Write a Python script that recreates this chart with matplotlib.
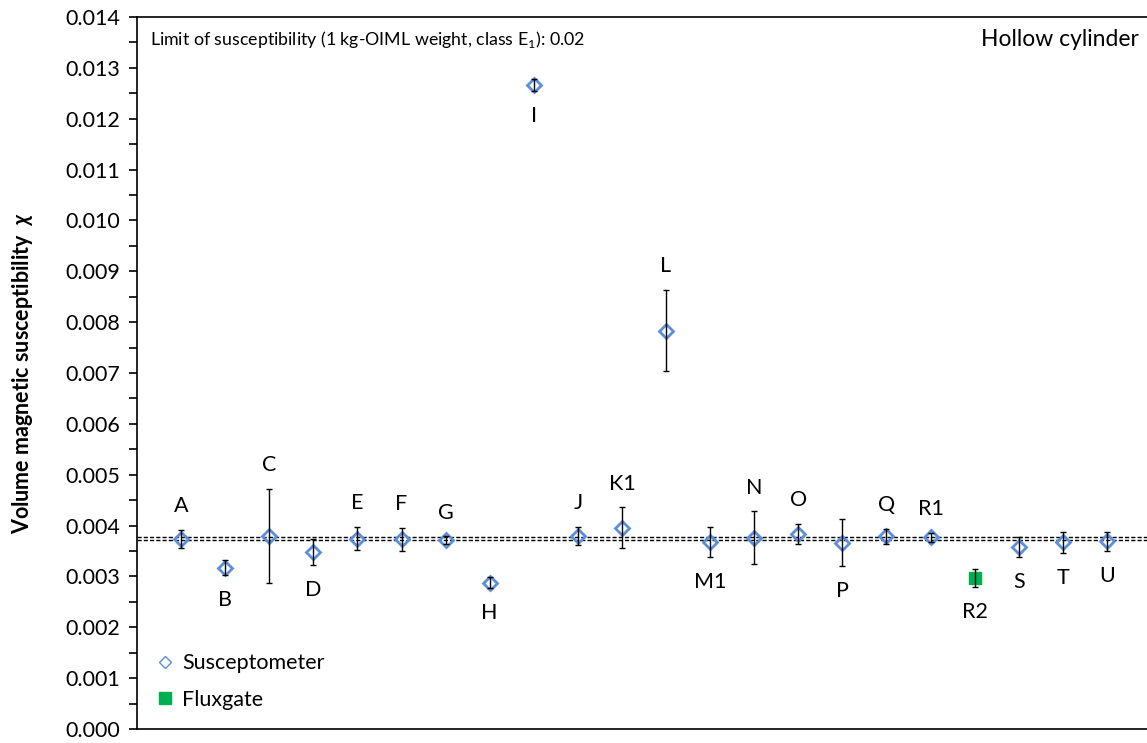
import matplotlib
matplotlib.use("Agg")
import matplotlib.pyplot as plt
from matplotlib.lines import Line2D
from matplotlib.ticker import MultipleLocator, FormatStrFormatter

plt.rcParams['font.family'] = ['Lato', 'DejaVu Sans']
plt.rcParams['mathtext.fontset'] = 'custom'
plt.rcParams['mathtext.rm'] = 'Lato'
plt.rcParams['mathtext.it'] = 'Lato:italic:bold'
plt.rcParams['mathtext.bf'] = 'Lato:bold'

# ---------- Dados ----------
labs = ["A", "B", "C", "D", "E", "F", "G", "H", "I", "J", "K1", "L",
        "M1", "N", "O", "P", "Q", "R1", "R2", "S", "T", "U"]
chi = [0.00374, 0.00317, 0.00380, 0.00348, 0.00374, 0.00373, 0.00371, 0.00288,
       0.01266, 0.00379, 0.00396, 0.00783, 0.00368, 0.00376, 0.00384, 0.00366,
       0.00379, 0.00377, 0.00297, 0.00358, 0.00367, 0.00369]
unc = [0.00018, 0.00015, 0.00092, 0.00025, 0.00023, 0.00023, 0.00008, 0.00010,
       0.00012, 0.00018, 0.00040, 0.00080, 0.00029, 0.00052, 0.00020, 0.00046,
       0.00015, 0.00009, 0.00017, 0.00019, 0.00021, 0.00019]
metodo = ["S"] * 18 + ["F"] + ["S"] * 3  # S = susceptometer, F = fluxgate
acima = ["A", "C", "E", "F", "G", "J", "K1", "L", "N", "O", "Q", "R1"]
ref_linhas = [0.00377, 0.00372]

azul = '#5B8FD8'
verde = '#00B050'

fig = plt.figure(figsize=(11.47, 7.43), dpi=100)
ax = fig.add_axes([137 / 1147, 14 / 743, 1014 / 1147, 712 / 743])

x = list(range(1, len(labs) + 1))

for y in ref_linhas:
    ax.axhline(y, color='black', lw=1.0, ls=(0, (3, 1.5)), zorder=1)

for xi, v, u, m in zip(x, chi, unc, metodo):
    ax.errorbar(xi, v, yerr=u, fmt='none', ecolor='black', elinewidth=1.0,
                capsize=2.5, capthick=1.0, zorder=3)
    if m == "S":
        ax.plot(xi, v, marker='D', ms=7, mfc='none', mec=azul, mew=2.0,
                ls='none', zorder=2)
    else:
        ax.plot(xi, v, marker='s', ms=9, mfc=verde, mec=verde, ls='none',
                zorder=2)

for xi, v, u, l in zip(x, chi, unc, labs):
    if l in acima:
        ax.annotate(l, (xi, v + u), xytext=(0, 17), textcoords='offset points',
                    ha='center', va='center', fontsize=15.5)
    else:
        ax.annotate(l, (xi, v - u), xytext=(0, -18), textcoords='offset points',
                    ha='center', va='center', fontsize=15.5)

ax.set_xlim(0, 23)
ax.set_ylim(0, 0.014)
ax.set_xticks([])
ax.yaxis.set_major_locator(MultipleLocator(0.001))
ax.yaxis.set_minor_locator(MultipleLocator(0.0005))
ax.yaxis.set_major_formatter(FormatStrFormatter('%.3f'))
ax.tick_params(axis='y', which='both', direction='out', length=6, width=1.2,
               labelsize=15.5, pad=6)
for s in ax.spines.values():
    s.set_linewidth(1.2)

ax.set_ylabel(r"Volume magnetic susceptibility  $\chi$", fontsize=15.5,
              fontweight='bold', labelpad=22)

ax.text(0.3, 0.01355, r"Limit of susceptibility (1 kg-OIML weight, class E$_1$): 0.02",
        fontsize=12.8, va='center', ha='left')
ax.text(22.72, 0.01355, "Hollow cylinder", fontsize=16.5, va='center', ha='right')

handles = [
    Line2D([], [], marker='D', ms=6, mfc='none', mec=azul, mew=1.0, ls='none'),
    Line2D([], [], marker='s', ms=8, mfc=verde, mec=verde, ls='none'),
]
ax.legend(handles, ["Susceptometer", "Fluxgate"], loc='lower left',
          bbox_to_anchor=(0.0, 0.0), frameon=False, fontsize=15.5,
          handlelength=0.8, handletextpad=0.4, labelspacing=0.75)

fig.savefig("out.png", dpi=100)
